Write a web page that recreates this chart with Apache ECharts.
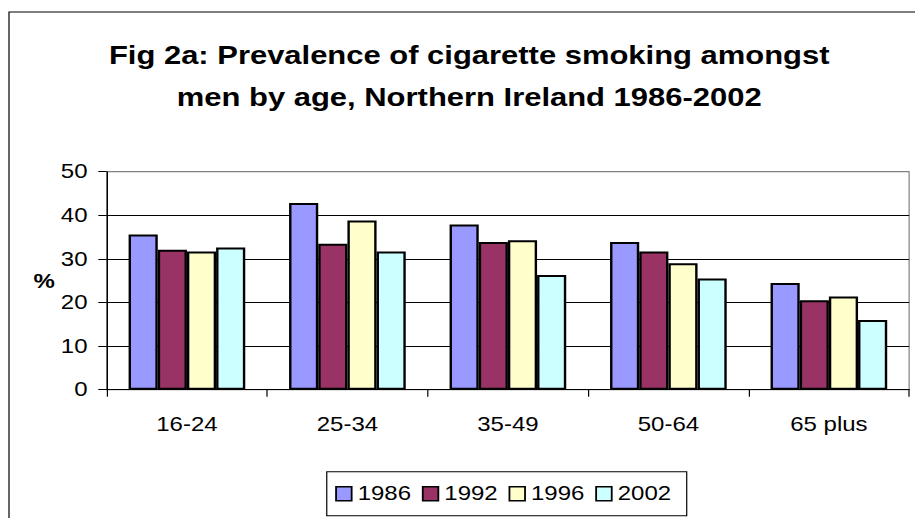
<!DOCTYPE html>
<html>
<head>
<meta charset="utf-8">
<script src="https://cdn.jsdelivr.net/npm/echarts@6/dist/echarts.min.js"></script>
<style>
  html, body { margin: 0; padding: 0; background: #fff; overflow: hidden; }
  /* chart is laid out narrower and widened horizontally to the page width */
  #chart { width: 762.5px; height: 518px; transform: scaleX(1.2); transform-origin: 0 0; }
</style>
</head>
<body>
<div id="chart"></div>
<script>
// Age groups and smoking prevalence (%) among men, by survey year
const ageGroups = ['16-24', '25-34', '35-49', '50-64', '65 plus'];
const years = ['1986', '1992', '1996', '2002'];
const values1986 = [35.6, 42.8, 37.9, 33.9, 24.5];
const values1992 = [32.1, 33.5, 33.9, 31.7, 20.5];
const values1996 = [31.7, 38.8, 34.3, 29.0, 21.4];
const values2002 = [32.6, 31.7, 26.3, 25.5, 16.0];
const yTicks = { min: 0, max: 50, step: 10 };

const seriesValues = [values1986, values1992, values1996, values2002];
const barColors = ['#9999FF', '#993366', '#FFFFCC', '#CCFFFF'];
const FONT = "'Liberation Sans', Arial, sans-serif";

const chart = echarts.init(document.getElementById('chart'), null, { renderer: 'svg' });

chart.setOption({
  animation: false,
  backgroundColor: '#ffffff',
  textStyle: { fontFamily: FONT },
  graphic: [
    {
      type: 'rect',
      shape: { x: 7.5, y: 12, width: 900, height: 700 },
      style: { fill: 'none', stroke: '#000', lineWidth: 1 },
      silent: true, z: -1
    },
    {
      type: 'text',
      x: 391, y: 55,
      style: {
        text: 'Fig 2a: Prevalence of cigarette smoking amongst',
        font: "bold 25.8px 'Liberation Sans', Arial, sans-serif",
        fill: '#000', align: 'center', verticalAlign: 'middle'
      }
    },
    {
      type: 'text',
      x: 391, y: 97,
      style: {
        text: 'men by age, Northern Ireland 1986-2002',
        font: "bold 25.8px 'Liberation Sans', Arial, sans-serif",
        fill: '#000', align: 'center', verticalAlign: 'middle'
      }
    },
    {
      type: 'text',
      x: 36.7, y: 281,
      style: {
        text: '%',
        font: "bold 20px 'Liberation Sans', Arial, sans-serif",
        fill: '#000', align: 'center', verticalAlign: 'middle'
      }
    }
  ],
  grid: {
    left: 88.9, right: 5.4, top: 171.7, bottom: 128.3,
    show: true, borderColor: '#808080', borderWidth: 1, backgroundColor: 'transparent'
  },
  legend: {
    data: years,
    left: 272.3, top: 471.7,
    padding: [12, 13, 12, 7],
    borderColor: '#000', borderWidth: 1,
    icon: 'rect',
    itemWidth: 13, itemHeight: 14, itemGap: 9,
    itemStyle: { borderColor: '#000', borderWidth: 1.5 },
    textStyle: { fontSize: 20, color: '#000', fontFamily: FONT }
  },
  xAxis: {
    type: 'category',
    data: ageGroups,
    axisLine: { lineStyle: { color: '#000', width: 1 } },
    axisTick: { show: true, length: 7, lineStyle: { color: '#000' } },
    axisLabel: { fontSize: 20, color: '#000', margin: 25, fontFamily: FONT },
    splitLine: { show: false }
  },
  yAxis: {
    type: 'value',
    min: yTicks.min, max: yTicks.max, interval: yTicks.step,
    axisLine: { show: true, lineStyle: { color: '#000', width: 1 } },
    axisTick: { show: true, length: 7, lineStyle: { color: '#000' } },
    axisLabel: { fontSize: 20, color: '#000', margin: 16, fontFamily: FONT },
    splitLine: {
      show: true,
      lineStyle: { color: ['#000', '#000', '#000', '#000', '#000', '#808080'], width: 1 }
    }
  },
  series: years.map((year, i) => ({
    name: year,
    type: 'bar',
    data: seriesValues[i],
    barGap: '0%',
    barCategoryGap: '27.3%',
    itemStyle: { color: barColors[i], borderColor: '#000', borderWidth: 2 },
    emphasis: { disabled: true }
  }))
});
</script>
</body>
</html>
